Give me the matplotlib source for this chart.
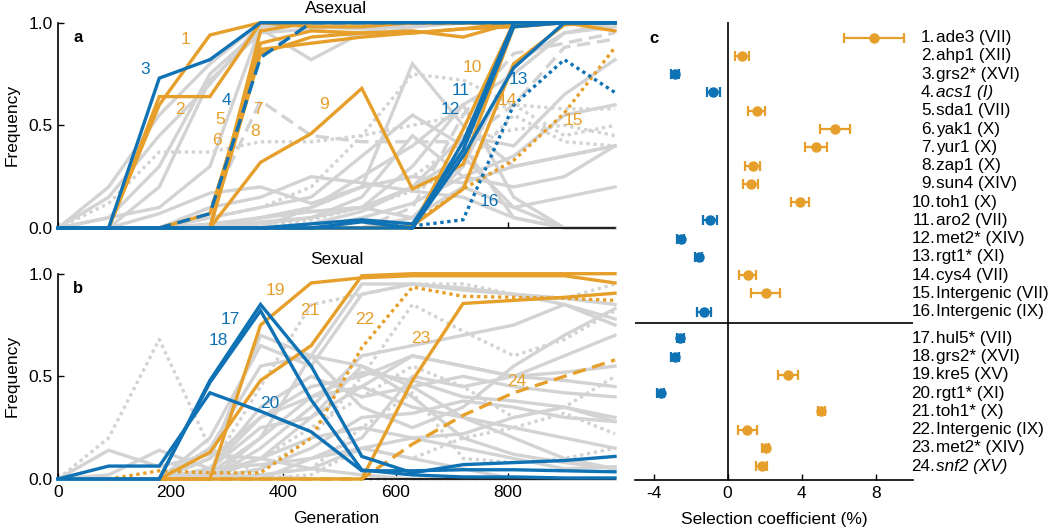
import numpy as np
import matplotlib
matplotlib.use('Agg')
import matplotlib.pyplot as plt

plt.rcParams['font.family'] = ['Liberation Sans', 'DejaVu Sans']
plt.rcParams['axes.unicode_minus'] = False

ORANGE = '#E69F2A'
BLUE = '#0F72B4'
GRAY = '#D3D3D3'

generations = [0, 90, 180, 270, 360, 450, 540, 630, 720, 810, 900, 990]
nan = float('nan')

# ---------------- Panel a (asexual) highlighted trajectories ----------------
asex_labels = ['1', '2', '3', '4', '5', '6', '7', '8', '9', '10', '11', '12', '13', '14', '15', '16']
asex_colors = ['o', 'o', 'b', 'b', 'o', 'o', 'o', 'o', 'o', 'o', 'b', 'b', 'b', 'o', 'o', 'b']
asex_styles = ['-', '-', '-', '--', '-', '-', '-', '-', '-', '-', '-', '-', '-', '-', ':', ':']
a1 = [0, 0, 0.60, 0.94, 1, 1, 1, 1, 1, 1, 1, 1]
a2 = [0, 0, 0.64, 0.64, 1, 0.98, 0.98, 1, 1, 1, 1, 1]
a3 = [0, 0, 0.73, 0.82, 1, 1, 1, 1, 1, 1, 1, 1]
a4 = [0, 0, 0, 0.07, 0.83, 1, 1, 1, 1, 1, 1, 1]
a5 = [0, 0, 0, 0.07, 0.87, 0.90, 0.93, 0.95, 0.97, 1, 1, 1]
a6 = [0, 0, 0, 0, 0.85, 0.93, 0.95, 0.95, 0.97, 0.98, 1, 1]
a7 = [0, 0, 0, 0, 0.96, 1, 1, 1, 1, 1, 1, 1]
a8 = [0, 0, 0, 0, 0.90, 0.96, 0.95, 0.96, 0.93, 1, 1, 0.96]
a9 = [0, 0, 0, 0, 0.32, 0.46, 0.68, 0.19, 0.31, 0.98, 1, 1]
a10 = [0, 0, 0, 0, 0, 0, 0, 0, 0.48, 1, 1, 1]
a11 = [0, 0, 0, 0, 0, 0, 0.03, 0, 0.42, 1, 1, 1]
a12 = [0, 0, 0, 0, 0, 0.02, 0.04, 0.02, 0.38, 0.98, 1, 1]
a13 = [0, 0, 0, 0, 0, 0, 0, 0, 0.35, 0.78, 1, 1]
a14 = [0, 0, 0, 0, 0, 0, 0, 0.01, 0.19, 0.80, 0.99, 1]
a15 = [nan, nan, nan, nan, nan, nan, nan, 0.02, 0.19, 0.33, 0.56, 0.88]
a16 = [nan, nan, nan, nan, nan, nan, nan, 0.01, 0.04, 0.60, 0.82, 0.66]
asex_series = [a1, a2, a3, a4, a5, a6, a7, a8, a9, a10, a11, a12, a13, a14, a15, a16]
asex_label_gen = [227, 217, 155, 300, 288, 282, 356, 350, 472, 737, 716, 697, 818, 798, 916, 767]
asex_label_freq = [0.92, 0.575, 0.77, 0.62, 0.53, 0.425, 0.575, 0.47, 0.60, 0.78, 0.67, 0.575, 0.725, 0.62, 0.525, 0.13]

# ---------------- Panel a background (gray) trajectories ----------------
asex_gray_styles = ['-', '-', '-', '-', ':', '--', '-', '-', '-', ':', '-', '-', '-', ':', '-', '-',
                    '-', ':', '-', '-', '-', '--', '-']
ga1 = [0, 0.20, 0.55, 0.80, 1, 1, 1, 1, 1, 1, 1, 1]
ga2 = [0, 0.15, 0.45, 0.70, 1, 0.98, 0.97, 0.98, 1, 1, 1, 1]
ga3 = [0, 0.05, 0.30, 0.75, 0.97, 0.82, 0.95, 1, 1, 1, 1, 1]
ga4 = [0, 0, 0.20, 0.72, 0.95, 0.97, 0.93, 0.98, 1, 1, 1, 1]
ga5 = [0, 0.12, 0.37, 0.37, 0.42, 0.42, 0.45, 0.50, 0.55, 0.60, 0.58, 0.58]
ga6 = [0, 0, 0, 0.10, 0.62, 0.45, 0.42, 0.42, 0.42, 0.60, 0.88, 0.92]
ga7 = [0, 0, 0.07, 0.17, 0.20, 0.12, 0.20, 0.25, 0.22, 0.30, 0.35, 0.40]
ga8 = [0, 0, 0, 0.10, 0.15, 0.25, 0.22, 0.18, 0.15, 0.05, 0, 0]
ga9 = [0, 0, 0, 0, 0.05, 0.10, 0.20, 0.80, 0.50, 0.30, 0.35, 0.40]
ga10 = [0, 0, 0, 0.05, 0.10, 0.20, 0.45, 0.75, 0.72, 0.60, 0.45, 0.50]
ga11 = [0, 0, 0, 0, 0.02, 0.05, 0.10, 0.30, 0.60, 0.75, 0.95, 1.0]
ga12 = [0, 0, 0, 0, 0, 0.02, 0.08, 0.20, 0.45, 0.40, 0.65, 0.82]
ga13 = [0, 0, 0, 0.02, 0.05, 0.08, 0.10, 0.20, 0.35, 0.10, 0, 0]
ga14 = [0, 0, 0, 0, 0.05, 0.10, 0.20, 0.25, 0.42, 0.48, 0.50, 0.45]
ga15 = [0, 0, 0, 0, 0, 0, 0.05, 0.12, 0.25, 0.35, 0.55, 0.60]
ga16 = [0, 0, 0, 0.05, 0.10, 0.15, 0.35, 0.55, 0.40, 0.05, 0, 0]
ga17 = [0, 0, 0, 0, 0.03, 0.05, 0.15, 0.45, 0.25, 0.20, 0.25, 0.40]
ga18 = [0, 0, 0, 0, 0, 0.04, 0.10, 0.18, 0.30, 0.55, 0.42, 0.40]
ga19 = [0, 0, 0, 0, 0, 0, 0, 0.05, 0.30, 0.80, 0.95, 0.98]
ga20 = [0, 0, 0, 0, 0.05, 0.08, 0.10, 0.05, 0.20, 0.10, 0.15, 0.20]
ga21 = [0, 0.05, 0.10, 0.30, 0.98, 1, 1, 1, 1, 1, 1, 1]
ga22 = [0, 0, 0, 0, 0, 0, 0, 0.10, 0.55, 0.85, 0.90, 0.95]
ga23 = [0, 0, 0, 0, 0, 0.10, 0.25, 0.40, 0.60, 0.15, 0, 0]
asex_gray = [ga1, ga2, ga3, ga4, ga5, ga6, ga7, ga8, ga9, ga10, ga11, ga12, ga13, ga14, ga15,
             ga16, ga17, ga18, ga19, ga20, ga21, ga22, ga23]

# ---------------- Panel b (sexual) highlighted trajectories ----------------
sex_labels = ['17', '18', '19', '20', '21', '22', '23', '24']
sex_colors = ['b', 'b', 'o', 'b', 'o', 'o', 'o', 'o']
sex_styles = ['-', '-', '-', '-', '-', ':', '-', '--']
b17 = [0, 0, 0, 0.48, 0.85, 0.55, 0.11, 0.03, 0.07, 0.08, 0.09, 0.11]
b18 = [0, 0, 0, 0.47, 0.82, 0.385, 0.044, 0.02, 0.01, 0.01, 0.005, 0.005]
b19 = [nan, nan, 0, 0, 0.75, 0.955, 0.98, 0.99, 0.99, 0.99, 0.99, 0.955]
b20 = [0, 0.063, 0.063, 0.42, 0.33, 0.23, 0.04, 0.04, 0.045, 0.045, 0.04, 0.035]
b21 = [nan, nan, 0, 0.13, 0.48, 0.65, 0.99, 1, 1, 1, 1, 1]
b22 = [nan, 0, 0.04, 0.03, 0.03, 0.20, 0.64, 0.935, 0.89, 0.885, 0.88, 0.87]
b23 = [nan, nan, 0, 0, 0, 0, 0, 0.48, 0.855, 0.87, 0.885, 0.905]
b24 = [nan, nan, 0, 0, 0, 0, 0, 0.17, 0.31, 0.42, 0.50, 0.58]
sex_series = [b17, b18, b19, b20, b21, b22, b23, b24]
sex_label_gen = [306, 285, 386, 376, 448, 546, 645, 815]
sex_label_freq = [0.775, 0.675, 0.92, 0.37, 0.82, 0.775, 0.685, 0.475]

# ---------------- Panel b background (gray) trajectories ----------------
sex_gray_styles = [':', '-', '-', '-', '-', '-', ':', '-', '-', ':', '-', '-', '-', ':', '-', '-',
                   '-', ':', '-', '-', ':', '-', '-']
gb1 = [0, 0.20, 0.68, 0.15, 0.02, 0, 0, 0, 0, 0, 0, 0]
gb2 = [0, 0.14, 0.06, 0.12, 0.10, 0.05, 0.02, 0, 0, 0, 0, 0]
gb3 = [0, 0.02, 0.14, 0.05, 0.07, 0.10, 0.15, 0.10, 0.05, 0, 0, 0]
gb4 = [0, 0, 0, 0.10, 0.70, 0.60, 0.55, 0.45, 0.30, 0.20, 0.10, 0.05]
gb5 = [0, 0, 0, 0.20, 0.65, 0.55, 0.90, 0.95, 0.93, 0.90, 0.88, 0.85]
gb6 = [0, 0, 0, 0.15, 0.55, 0.60, 0.35, 0.25, 0.35, 0.55, 0.70, 0.83]
gb7 = [0, 0, 0, 0.05, 0.45, 0.85, 0.90, 0.95, 0.95, 0.90, 0.88, 0.95]
gb8 = [0, 0, 0, 0.10, 0.30, 0.45, 0.50, 0.60, 0.55, 0.50, 0.48, 0.45]
gb9 = [0, 0, 0, 0.05, 0.25, 0.30, 0.45, 0.35, 0.30, 0.25, 0.20, 0.15]
gb10 = [0, 0, 0, 0.02, 0.10, 0.25, 0.40, 0.55, 0.45, 0.30, 0.35, 0.50]
gb11 = [0, 0, 0, 0, 0.15, 0.35, 0.60, 0.65, 0.70, 0.75, 0.85, 0.78]
gb12 = [0, 0, 0, 0.05, 0.35, 0.50, 0.40, 0.45, 0.50, 0.45, 0.42, 0.40]
gb13 = [0, 0, 0, 0, 0.05, 0.15, 0.30, 0.32, 0.38, 0.35, 0.30, 0.28]
gb14 = [0, 0, 0, 0, 0.02, 0.05, 0.25, 0.42, 0.10, 0.08, 0.10, 0.15]
gb15 = [0, 0, 0, 0.02, 0.10, 0.30, 0.55, 0.40, 0.20, 0.12, 0.08, 0.05]
gb16 = [0, 0, 0, 0, 0, 0.10, 0.20, 0.50, 0.45, 0.50, 0.60, 0.70]
gb17 = [0, 0, 0, 0.03, 0.20, 0.40, 0.45, 0.60, 0.55, 0.50, 0.52, 0.55]
gb18 = [0, 0, 0, 0, 0.05, 0.20, 0.50, 0.85, 0.72, 0.60, 0.68, 0.82]
gb19 = [0, 0, 0, 0, 0.02, 0.05, 0.15, 0.20, 0.22, 0.30, 0.35, 0.28]
gb20 = [0, 0, 0, 0.05, 0.30, 0.40, 0.52, 0.48, 0.40, 0.38, 0.35, 0.30]
gb21 = [0, 0, 0, 0, 0, 0.02, 0.15, 0.10, 0.20, 0.25, 0.32, 0.22]
gb22 = [0, 0, 0, 0, 0.10, 0.20, 0.25, 0.20, 0.15, 0.10, 0.05, 0.06]
gb23 = [0, 0, 0, 0, 0.20, 0.60, 0.95, 0.95, 0.92, 0.90, 0.85, 0.75]
sex_gray = [gb1, gb2, gb3, gb4, gb5, gb6, gb7, gb8, gb9, gb10, gb11, gb12, gb13, gb14, gb15,
            gb16, gb17, gb18, gb19, gb20, gb21, gb22, gb23]

# ---------------- Panel c: selection coefficients ----------------
mut_numbers = list(range(1, 25))
mut_names = ['ade3 (VII)', 'ahp1 (XII)', 'grs2* (XVI)', 'acs1 (I)', 'sda1 (VII)', 'yak1 (X)',
             'yur1 (X)', 'zap1 (X)', 'sun4 (XIV)', 'toh1 (X)', 'aro2 (VII)', 'met2* (XIV)',
             'rgt1* (XI)', 'cys4 (VII)', 'Intergenic (VII)', 'Intergenic (IX)',
             'hul5* (VII)', 'grs2* (XVI)', 'kre5 (XV)', 'rgt1* (XI)', 'toh1* (X)',
             'Intergenic (IX)', 'met2* (XIV)', 'snf2 (XV)']
mut_italic = [False, False, False, True] + [False] * 19 + [True]
sel_coef = [7.9, 0.75, -2.84, -0.77, 1.56, 5.79, 4.75, 1.35, 1.24, 3.9, -0.96, -2.54, -1.57,
            1.08, 2.05, -1.28, -2.56, -2.84, 3.27, -3.62, 5.05, 1.06, 2.05, 1.83]
sel_err = [1.6, 0.38, 0.22, 0.37, 0.48, 0.83, 0.6, 0.41, 0.42, 0.47, 0.38, 0.2, 0.2,
           0.47, 0.78, 0.4, 0.2, 0.2, 0.53, 0.2, 0.2, 0.5, 0.2, 0.3]
sel_colors = ['o', 'o', 'b', 'b', 'o', 'o', 'o', 'o', 'o', 'o', 'b', 'b', 'b', 'o', 'o', 'b',
              'b', 'b', 'o', 'b', 'o', 'o', 'o', 'o']
c_ticks = [-4, 0, 4, 8]

cmap = {'o': ORANGE, 'b': BLUE}


def dash_for(style):
    if style == ':':
        return (0, (1, 1.1))
    if style == '--':
        return (0, (4, 2))
    return '-'


fig = plt.figure(figsize=(10.5, 5.31), dpi=100)
W, H = 1050, 531


def px_axes(l, t, r, b):
    return fig.add_axes([l / W, 1 - b / H, (r - l) / W, (b - t) / H])


ax_a = px_axes(58, 22.7, 615, 228)
ax_b = px_axes(58, 273.7, 615, 479)
ax_c = px_axes(635, 22, 913, 480)

LW = 2.4


def draw_panel(ax, gray, gray_styles, series, colors, styles, labels, lgen, lfreq):
    for vals, st in zip(gray, gray_styles):
        ax.plot(generations, vals, color=GRAY, lw=LW, linestyle=dash_for(st),
                dash_capstyle='butt', solid_joinstyle='miter', zorder=2, clip_on=False)
    order = [i for i in range(len(colors)) if colors[i] == 'o'] + \
            [i for i in range(len(colors)) if colors[i] == 'b' and styles[i] != '-'] + \
            [i for i in range(len(colors)) if colors[i] == 'b' and styles[i] == '-']
    for i in order:
        ax.plot(generations, series[i], color=cmap[colors[i]], lw=LW,
                linestyle=dash_for(styles[i]), dash_capstyle='butt',
                solid_joinstyle='miter', zorder=3, clip_on=False)
    for lab, g, f, c in zip(labels, lgen, lfreq, colors):
        ax.text(g, f, lab, color=cmap[c], fontsize=12.5, ha='center', va='center', zorder=4)
    ax.set_xlim(0, 990)
    ax.set_ylim(0, 1)
    for s in ['top', 'right']:
        ax.spines[s].set_visible(False)
    for s in ['left', 'bottom']:
        ax.spines[s].set_linewidth(1.2)
    ax.set_yticks([0, 0.5, 1.0])
    ax.set_yticklabels(['0.0', '0.5', '1.0'])
    ax.set_xticks([0, 200, 400, 600, 800])
    ax.tick_params(direction='in', length=4, width=1.0, labelsize=12.5, pad=4)
    ax.set_ylabel('Frequency', fontsize=12.5, labelpad=6)


draw_panel(ax_a, asex_gray, asex_gray_styles, asex_series, asex_colors, asex_styles,
           asex_labels, asex_label_gen, asex_label_freq)
draw_panel(ax_b, sex_gray, sex_gray_styles, sex_series, sex_colors, sex_styles,
           sex_labels, sex_label_gen, sex_label_freq)
ax_a.set_xticklabels([])
ax_a.set_title('Asexual', fontsize=12.5, pad=7)
ax_b.set_title('Sexual', fontsize=12.5, pad=7)
ax_b.set_xlabel('Generation', fontsize=12.5, labelpad=8)
ax_a.text(0.027, 0.93, 'a', transform=ax_a.transAxes, fontsize=12, fontweight='bold', va='center')
ax_b.text(0.027, 0.93, 'b', transform=ax_b.transAxes, fontsize=12, fontweight='bold', va='center')

# Panel c
ypos = [n if n <= 16 else n + 0.46 for n in mut_numbers]
for y, v, e, c in zip(ypos, sel_coef, sel_err, sel_colors):
    ax_c.errorbar(v, y, xerr=e, fmt='o', color=cmap[c], ms=6.5, elinewidth=1.6,
                  capsize=3.8, capthick=1.6, zorder=3)
ax_c.set_xlim(-5, 10)
ax_c.set_ylim(25.22, 0.14)
ax_c.axvline(0, color='black', lw=1.2, zorder=2)
ax_c.axhline(16.62, color='black', lw=1.2, zorder=2)
for s in ['top', 'right', 'left']:
    ax_c.spines[s].set_visible(False)
ax_c.spines['bottom'].set_linewidth(1.2)
ax_c.set_yticks([])
ax_c.set_xticks(c_ticks)
ax_c.set_xticklabels([str(t) for t in c_ticks])
ax_c.tick_params(direction='in', length=4, width=1.0, labelsize=12.5, pad=4)
ax_c.set_xlabel('Selection coefficient (%)', fontsize=12.5, labelpad=8)
for n, y, name, it in zip(mut_numbers, ypos, mut_names, mut_italic):
    ax_c.text(11.2, y, f'{n}.', fontsize=12.3, ha='right', va='center', clip_on=False)
    ax_c.text(11.23, y, name, fontsize=12.3, ha='left', va='center', clip_on=False,
              style='italic' if it else 'normal')
ax_c.text(-4.2, 1.05, 'c', fontsize=12, fontweight='bold', va='center')

fig.savefig('out.png', dpi=100)
